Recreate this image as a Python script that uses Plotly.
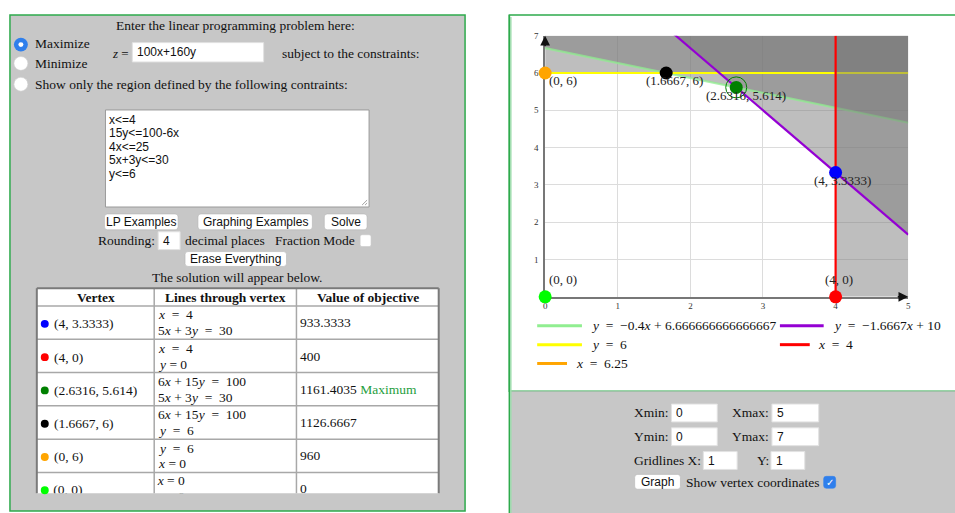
import plotly.graph_objects as go

W, H = 955, 513
SERIF = "Liberation Serif, Times New Roman, serif"
SANS = "Liberation Sans, Arial, sans-serif"

# ---------------- data ----------------
objective_text = "100x+160y"
constraint_text = ["x<=4", "15y<=100-6x", "4x<=25", "5x+3y<=30", "y<=6"]
# constraints in the form a*x + b*y <= c
con_a = [1, 6, 4, 5, 0]
con_b = [0, 15, 0, 3, 1]
con_c = [4, 100, 25, 30, 6]
con_colors = ["#ff0000", "#90ee90", "#ffa500", "#9400d3", "#ffff00"]
legend_order = [1, 3, 4, 0, 2]
legend_labels = [
    "<i>y</i> \u00a0= \u00a0\u22120.4<i>x</i> + 6.666666666666667",
    "<i>y</i> \u00a0= \u00a0\u22121.6667<i>x</i> + 10",
    "<i>y</i> \u00a0= \u00a06",
    "<i>x</i> \u00a0= \u00a04",
    "<i>x</i> \u00a0= \u00a06.25",
]
vert_x = [4, 4, 2.6316, 1.6667, 0, 0]
vert_y = [3.3333, 0, 5.614, 6, 6, 0]
vert_colors = ["#0000ff", "#ff0000", "#008000", "#000000", "#ffa500", "#00ff00"]
vert_labels = ["(4, 3.3333)", "(4, 0)", "(2.6316, 5.614)", "(1.6667, 6)", "(0, 6)", "(0, 0)"]
lines_through = [
    ["<i>x</i> \u00a0= \u00a04", "5<i>x</i> + 3<i>y</i> \u00a0= \u00a030"],
    ["<i>x</i> \u00a0= \u00a04", "<i>y</i> = 0"],
    ["6<i>x</i> + 15<i>y</i> \u00a0= \u00a0100", "5<i>x</i> + 3<i>y</i> \u00a0= \u00a030"],
    ["6<i>x</i> + 15<i>y</i> \u00a0= \u00a0100", "<i>y</i> \u00a0= \u00a06"],
    ["<i>y</i> \u00a0= \u00a06", "<i>x</i> = 0"],
    ["<i>x</i> = 0", "<i>y</i> = 0"],
]
obj_values = ["933.3333", "400", "1161.4035", "1126.6667", "960", "0"]
max_index = 2
x_range = [0, 5]
y_range = [0, 7]
grid_x, grid_y = 1, 1
rounding = 4
table_headers = ["Vertex", "Lines through vertex", "Value of objective"]

# ---------------- helpers ----------------
def px(x):
    return x / W

def py(y):
    return 1 - y / H

shapes = []
annotations = []

def rect(x0, y0, x1, y1, fill="white", line="#aaaaaa", lw=1, layer="below"):
    shapes.append(dict(type="rect", xref="paper", yref="paper",
                       x0=px(x0), x1=px(x1), y0=py(y1), y1=py(y0),
                       fillcolor=fill, line=dict(color=line, width=lw), layer=layer))

def rrect(x0, y0, x1, y1, r=3, fill="white", line="#b5b5b5", lw=0.6):
    pts = [("M", x0 + r, y0), ("L", x1 - r, y0), ("Q", x1, y0, x1, y0 + r),
           ("L", x1, y1 - r), ("Q", x1, y1, x1 - r, y1), ("L", x0 + r, y1),
           ("Q", x0, y1, x0, y1 - r), ("L", x0, y0 + r), ("Q", x0, y0, x0 + r, y0)]
    parts = []
    for p in pts:
        if p[0] == "Q":
            parts.append("Q %.5f,%.5f %.5f,%.5f" % (px(p[1]), py(p[2]), px(p[3]), py(p[4])))
        else:
            parts.append("%s %.5f,%.5f" % (p[0], px(p[1]), py(p[2])))
    shapes.append(dict(type="path", xref="paper", yref="paper", path=" ".join(parts) + " Z",
                       fillcolor=fill, line=dict(color=line, width=lw), layer="below"))

def seg(x0, y0, x1, y1, color, lw=1, layer="below"):
    shapes.append(dict(type="line", xref="paper", yref="paper",
                       x0=px(x0), x1=px(x1), y0=py(y0), y1=py(y1),
                       line=dict(color=color, width=lw), layer=layer))

def circ(cx, cy, r, fill, line="rgba(0,0,0,0)", lw=1, layer="above"):
    shapes.append(dict(type="circle", xref="paper", yref="paper",
                       x0=px(cx - r), x1=px(cx + r), y0=py(cy + r), y1=py(cy - r),
                       fillcolor=fill, line=dict(color=line, width=lw), layer=layer))

def txt(x, y, s, size=13.5, anchor="left", color="#111111", family=SERIF):
    annotations.append(dict(xref="paper", yref="paper", x=px(x), y=py(y), text=s,
                            showarrow=False, xanchor=anchor, yanchor="middle",
                            borderpad=0, font=dict(family=family, size=size, color=color)))

def button(x0, y0, x1, y1, label):
    rrect(x0, y0, x1, y1)
    txt((x0 + x1) / 2, (y0 + y1) / 2, label, 12, "center", "#111", SANS)

def input_box(x0, y0, x1, y1, value):
    rect(x0, y0, x1, y1, fill="white", line="#e2e2e2", lw=1)
    txt(x0 + 4, (y0 + y1) / 2, value, 12, "left", "#111", SANS)

GRAY = "#c7c7c7"
GREEN = "#2eaa4c"

# ---------------- panels ----------------
rect(8, 10, 465.5, 511, fill=GRAY, line=GREEN, lw=1.5)
rect(510, 10, 975, 390, fill="white", line=GREEN, lw=1.5)
rect(510, 390, 975, 530, fill=GRAY, line="rgba(0,0,0,0)", lw=0)
seg(510, 10, 510, 513, GREEN, 1.5)
seg(511.5, 12, 511.5, 513, "#9edcad", 1.5)

# ---------------- left panel ----------------
txt(234.5, 21, "Enter the linear programming problem here:", anchor="center")
circ(19, 40, 7, "#2f7fec")
circ(19, 40, 2.5, "white")
txt(32, 39, "Maximize")
circ(19, 59, 7, "white", "#d0d0d0", 0.6)
txt(32, 59, "Minimize")
txt(110, 48.5, "<i>z</i> =", 13)
input_box(131, 38, 263, 57.5, objective_text)
txt(280, 48.5, "subject to the constraints:")
circ(19, 80, 7, "white", "#d0d0d0", 0.6)
txt(32, 80, "Show only the region defined by the following contraints:")

rect(104, 106, 369, 204, fill="white", line="#9a9a9a", lw=1)
for i, c in enumerate(constraint_text):
    txt(107, 116 + 13.6 * i, c, 12, "left", "#111", SANS)
seg(362, 202, 367, 197, "#888", 0.8)
seg(365, 202, 367, 200, "#888", 0.8)

button(103, 211, 177, 227, "LP Examples")
button(197, 211, 312, 227, "Graphing Examples")
button(324, 211, 367, 227, "Solve")
txt(96, 238, "Rounding:")
input_box(157, 229, 179, 247, str(rounding))
txt(183, 238, "decimal places")
txt(273, 238, "Fraction Mode")
rrect(360, 232, 371, 244, r=2, fill="white", line="#c8c8c8", lw=0.6)
button(184, 249, 286, 264, "Erase Everything")
txt(236, 275, "The solution will appear below.", anchor="center")

# table
t_left, t_right = 35, 439
col_x = [35, 153, 296, 439]
t_top, head_bot, t_bot = 286, 304, 493
row_h = 33.6
rect(t_left, t_top, t_right, t_bot, fill="white", line="rgba(0,0,0,0)", lw=0)
for k in range(1, len(obj_values)):
    yy = head_bot + k * row_h
    seg(t_left, yy, t_right, yy, "#a8a8a8", 1.5)
seg(t_left, head_bot, t_right, head_bot, "#a8a8a8", 1.5)
for xx in col_x[1:-1]:
    seg(xx, t_top, xx, t_bot, "#a8a8a8", 1.5)
seg(t_left, t_top, t_right, t_top, "#7a7a7a", 2)
seg(t_left, t_top, t_left, t_bot, "#7a7a7a", 2)
seg(t_right, t_top, t_right, t_bot, "#7a7a7a", 2)
for j, hname in enumerate(table_headers):
    txt((col_x[j] + col_x[j + 1]) / 2, 295, "<b>" + hname + "</b>", 13.5, "center")

# texts of the last (scrolled, partly hidden) row are clipped by a hidden subplot
clip_x, clip_y, clip_t = [], [], []
n_rows = len(obj_values)
for i in range(n_rows):
    top = head_bot + i * row_h
    circ(43, top + 18, 4, vert_colors[i], layer="above")
    val = obj_values[i]
    if i == max_index:
        val += " <span style='color:#1f9e40'>Maximum</span>"
    if i < n_rows - 1:
        txt(51, top + 18, vert_labels[i])
        txt(156, top + 9, lines_through[i][0])
        txt(156, top + 25, lines_through[i][1])
        txt(299, top + 17, val)
    else:
        clip_x += [51.5, 156.5, 156.5, 299.5]
        clip_y += [top + 18, top + 9, top + 25, top + 17]
        clip_t += [vert_labels[i], lines_through[i][0], lines_through[i][1], val]

# ---------------- bottom-right controls ----------------
txt(634, 412, "Xmin:")
input_box(673, 403, 719, 421, str(x_range[0]))
txt(733, 412, "Xmax:")
input_box(774, 403, 821, 421, str(x_range[1]))
txt(634, 436, "Ymin:")
input_box(673, 427, 719, 445, str(y_range[0]))
txt(733, 436, "Ymax:")
input_box(774, 427, 821, 445, str(y_range[1]))
txt(634, 460, "Gridlines X:")
input_box(705, 451, 739, 469, str(grid_x))
txt(758, 460, "Y:")
input_box(773, 451, 807, 469, str(grid_y))
button(636, 474, 682, 489, "Graph")
txt(687, 482, "Show vertex coordinates")
rrect(826, 476, 838, 488, r=2.5, fill="#2f7fec", line="#2f7fec", lw=0.6)
txt(832, 482, "\u2713", 10, "center", "white", SANS)

# ---------------- graph ----------------
def clip_violation(a, b, c):
    poly = [(x_range[0], y_range[0]), (x_range[1], y_range[0]),
            (x_range[1], y_range[1]), (x_range[0], y_range[1])]
    out = []
    n = len(poly)
    for i in range(n):
        P, Q = poly[i], poly[(i + 1) % n]
        fp = a * P[0] + b * P[1] - c
        fq = a * Q[0] + b * Q[1] - c
        if fp >= 0:
            out.append(P)
        if (fp >= 0) != (fq >= 0):
            t = fp / (fp - fq)
            out.append((P[0] + t * (Q[0] - P[0]), P[1] + t * (Q[1] - P[1])))
    return out

def shade_trace(k):
    poly = clip_violation(con_a[k], con_b[k], con_c[k])
    if len(poly) < 3:
        return None
    xs = [p[0] for p in poly] + [poly[0][0]]
    ys = [p[1] for p in poly] + [poly[0][1]]
    return go.Scatter(x=xs, y=ys, mode="lines", fill="toself",
                      fillcolor="rgba(120,120,120,0.48)", line=dict(width=0),
                      hoverinfo="skip", showlegend=False)

def line_trace(k, opacity=1.0):
    a, b, c = con_a[k], con_b[k], con_c[k]
    if b != 0:
        xs = [x_range[0], x_range[1]]
        ys = [(c - a * x) / b for x in xs]
    else:
        xs = [c / a, c / a]
        ys = [y_range[0], y_range[1]]
    return go.Scatter(x=xs, y=ys, mode="lines", line=dict(color=con_colors[k], width=2.2),
                      opacity=opacity, hoverinfo="skip", showlegend=False)

fig = go.Figure()
draw_order = [("s", 1), ("s", 3), ("s", 4), ("s", 2), ("l", 1), ("l", 4),
              ("s", 0), ("l", 3), ("l", 2), ("l", 0)]
for kind, k in draw_order:
    if kind == "s":
        tr = shade_trace(k)
    else:
        tr = line_trace(k, 0.75 if k == 1 else 1.0)
    if tr is not None:
        fig.add_trace(tr)

# maximum ring
fig.add_trace(go.Scatter(x=[vert_x[max_index]], y=[vert_y[max_index]], mode="markers",
                         marker=dict(symbol="circle-open", size=21, color="#008000",
                                     line=dict(width=1)),
                         cliponaxis=False, hoverinfo="skip", showlegend=False))
fig.add_trace(go.Scatter(x=vert_x, y=vert_y, mode="markers",
                         marker=dict(size=13, color=vert_colors, line=dict(width=0)),
                         cliponaxis=False, hoverinfo="skip", showlegend=False))

# clipped last table row
fig.add_trace(go.Scatter(x=clip_x, y=clip_y, text=clip_t, mode="text",
                         textposition="middle right", cliponaxis=True,
                         textfont=dict(family=SERIF, size=13.5, color="#111111"),
                         xaxis="x2", yaxis="y2", hoverinfo="skip", showlegend=False))

label_shift = [(7, 8), (3, -17), (10, 8), (8, 8), (18, 8), (18, -17)]
for i in range(len(vert_x)):
    dx, dy = label_shift[i]
    annotations.append(dict(x=vert_x[i], y=vert_y[i], xref="x", yref="y",
                            text=vert_labels[i], showarrow=False, xanchor="center",
                            yanchor="middle", xshift=dx, yshift=-dy,
                            font=dict(family=SERIF, size=13, color="#222")))

# axis arrows
annotations.append(dict(x=x_range[1], y=y_range[0], xref="x", yref="y", ax=-12, ay=0,
                        axref="pixel", ayref="pixel", text="", showarrow=True,
                        arrowhead=2, arrowsize=1.3, arrowwidth=1.5, arrowcolor="#111"))
annotations.append(dict(x=x_range[0], y=y_range[1], xref="x", yref="y", ax=0, ay=12,
                        axref="pixel", ayref="pixel", text="", showarrow=True,
                        arrowhead=2, arrowsize=1.3, arrowwidth=1.5, arrowcolor="#111"))

# legend (custom)
leg_pos = [(538, 583, 324, 591), (782, 826, 324, 834), (538, 583, 343, 591),
           (782, 812, 343, 819), (538, 568, 362, 576)]
for j, k in enumerate(legend_order):
    x0, x1, yy, tx = leg_pos[j]
    seg(x0, yy, x1, yy, con_colors[k], 3, layer="above")
    txt(tx, yy, legend_labels[j], 13.5)

fig.update_layout(
    width=W, height=H, autosize=False,
    margin=dict(l=0, r=0, t=0, b=0),
    paper_bgcolor="white", plot_bgcolor="white",
    showlegend=False,
    shapes=shapes, annotations=annotations,
    xaxis=dict(domain=[546 / W, 911 / W], range=x_range, showgrid=True,
               gridcolor="#dcdcdc", gridwidth=1, zeroline=False, showline=True,
               linecolor="#777777", linewidth=1.5, tickmode="array",
               tickvals=list(range(x_range[0], x_range[1] + 1, grid_x)),
               ticks="", tickfont=dict(family=SERIF, size=9, color="#333"),
               layer="below traces", fixedrange=True),
    yaxis=dict(domain=[1 - 294.7 / H, 1 - 31 / H], range=y_range, showgrid=True,
               gridcolor="#dcdcdc", gridwidth=1, zeroline=False, showline=True,
               linecolor="#777777", linewidth=1.5, tickmode="array",
               tickvals=list(range(y_range[0] + grid_y, y_range[1] + 1, grid_y)),
               ticks="", ticklabelstandoff=3,
               tickfont=dict(family=SERIF, size=9, color="#333"),
               layer="below traces", fixedrange=True),
    xaxis2=dict(domain=[t_left / W, t_right / W], range=[t_left, t_right], visible=False,
                anchor="y2", fixedrange=True),
    yaxis2=dict(domain=[1 - t_bot / H, 1 - (head_bot + (n_rows - 1) * row_h) / H],
                range=[t_bot, head_bot + (n_rows - 1) * row_h], visible=False,
                anchor="x2", fixedrange=True),
)

fig.write_html("out.html", config={"displayModeBar": False},
               post_script="document.body.style.margin='0px';document.body.style.overflow='hidden';")
